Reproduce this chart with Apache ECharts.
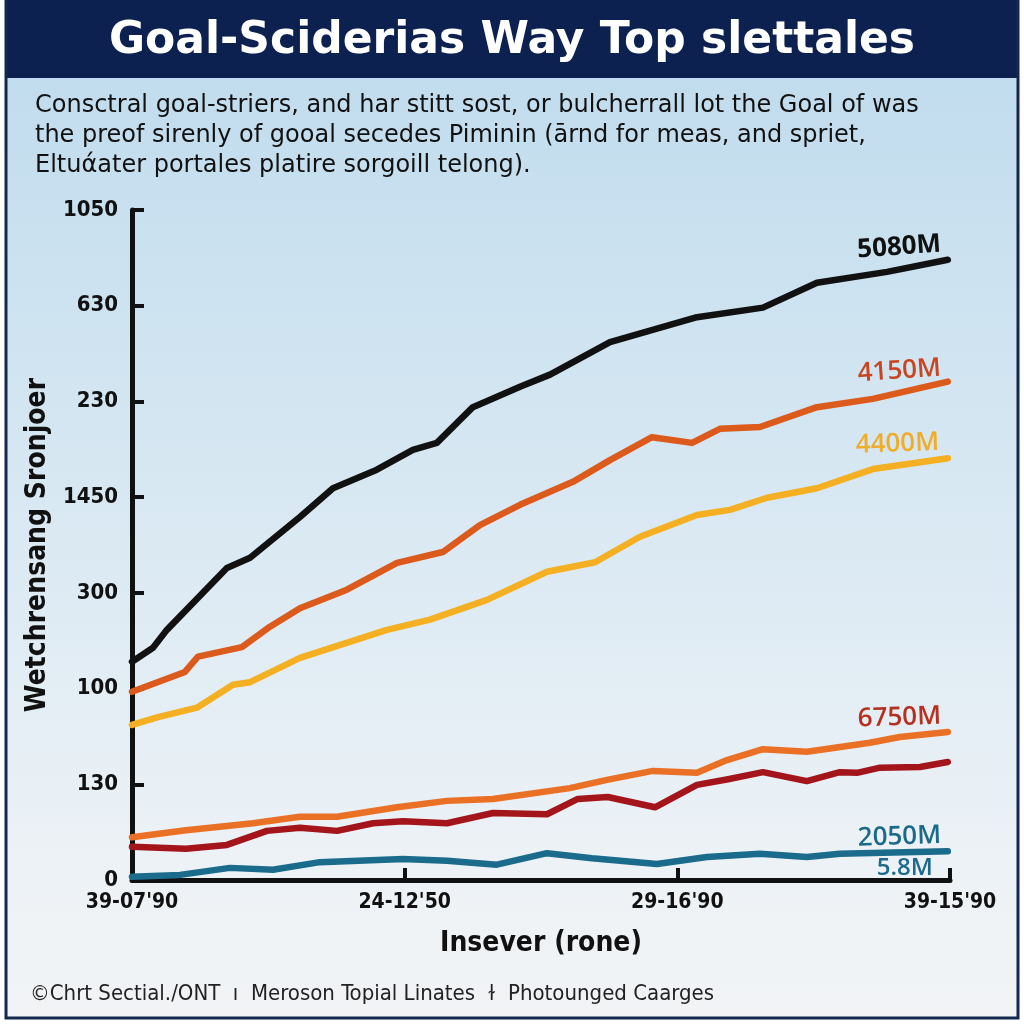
<!DOCTYPE html>
<html><head><meta charset="utf-8">
<script src="https://cdn.jsdelivr.net/npm/echarts@6/dist/echarts.min.js"></script>
<style>html,body{margin:0;padding:0;background:#fff}#c{width:1024px;height:1024px}</style>
</head><body><div id="c"></div>
<script>
var titleText = 'Goal-Sciderias Way Top slettales';
var subtitleLines = [
  'Consctral goal-striers, and har stitt sost, or bulcherrall lot the Goal of was',
  'the preof sirenly of gooal secedes Piminin (ārnd for meas, and spriet,',
  'Eltuάater portales platire sorgoill telong).'
];
var footerText = '©Chrt Sectial./ONT  ı  Meroson Topial Linates  ɫ  Photounged Caarges';
var yAxisName = 'Wetchrensang Sronjoer';
var xAxisName = 'Insever (rone)';
var yTickLabels = ['0', '130', '100', '300', '1450', '230', '630', '1050'];
var xTickLabels = ["39-07'90", "24-12'50", "29-16'90", "39-15'90"];

var seriesNames = ['Black', 'Orange', 'Yellow', 'Lower orange', 'Dark red', 'Teal'];
var endLabels = ['5080M', '4150M', '4400M', '6750M', '', '2050M'];
var tealExtraLabel = '5.8M';

var blackData = [[0,342],[0.77,364],[1.28,392],[3.48,489],[4.33,505],[6.16,569],[7.37,614],[8.98,643],[10.3,674],[11.18,685],[12.5,741],[14.23,773],[15.33,792],[17.53,843],[20.72,882],[23.14,897],[25.12,936],[27.69,953],[29.92,972]];
var orangeData = [[0,295],[1.94,326],[2.42,350],[4.03,365],[5.06,397],[6.16,426],[7.88,455],[9.72,497],[11.4,514],[12.76,556],[14.23,588],[16.17,624],[17.53,658],[19.07,694],[20.54,685],[21.56,707],[23.03,710],[25.12,741],[27.17,754],[29.92,781]];
var yellowData = [[0,243],[0.92,255],[2.38,270],[3.7,306],[4.33,310],[6.16,348],[9.35,392],[10.93,408],[13.02,439],[15.22,483],[16.98,498],[18.63,538],[20.72,572],[21.93,580],[23.29,599],[25.12,614],[27.17,644],[29.92,661]];
var lowerOrangeData = [[0,67],[1.98,78],[4.44,89],[6.16,99],[7.52,99],[9.72,114],[11.55,124],[13.24,127],[16.06,144],[17.42,157],[19.1,171],[20.72,168],[21.82,188],[23.14,205],[24.75,201],[27.06,215],[28.16,224],[29.92,232]];
var darkRedData = [[0,52],[1.98,49],[3.48,55],[4.95,77],[6.16,82],[7.52,77],[8.84,89],[9.94,92],[11.55,89],[13.24,105],[15.22,103],[16.35,127],[17.45,130],[19.18,114],[20.72,149],[21.86,158],[23.14,169],[24.75,155],[25.96,169],[26.59,168],[27.43,176],[28.9,177],[29.92,185]];
var tealData = [[0,5],[1.76,8],[3.59,19],[5.17,16],[6.89,28],[9.94,33],[11.55,30],[13.38,24],[15.22,42],[16.87,34],[19.25,25],[21.09,36],[23.03,41],[24.75,36],[25.96,41],[29.92,45]];

var allData = [blackData, orangeData, yellowData, lowerOrangeData, darkRedData, tealData];
var lineColors = ['#111111', '#dc5a1c', '#f4b022', '#ea7026', '#a3151b', '#1b6b8c'];
var labelColors = ['#111111', '#c8451f', '#efad2a', '#b5301f', '#a3151b', '#1a6a88'];
var labelOffsets = [[-48, 2], [-48, 4], [-50, 2], [-48, 2], [0, 0], [-48, 2]];
var condensed = '"DejaVu Sans Condensed", "Roboto Condensed", Roboto, sans-serif';

var chart = echarts.init(document.getElementById('c'));
var series = allData.map(function (d, i) {
  var last = d.length - 1;
  var s = {
    name: seriesNames[i],
    type: 'line',
    data: d,
    symbol: 'circle',
    symbolSize: 0,
    showSymbol: true,
    showAllSymbol: true,
    lineStyle: { color: lineColors[i], width: 6.5, cap: 'round', join: 'round' },
    itemStyle: { color: lineColors[i] },
    z: 10 - i,
    label: {
      show: !!endLabels[i],
      position: 'top',
      offset: labelOffsets[i],
      rotate: i < 2 ? 4 : 2,
      fontFamily: 'Open Sans',
      fontSize: 26,
      fontWeight: i === 0 ? 700 : 600,
      color: labelColors[i],
      formatter: function (p) { return p.dataIndex === last ? endLabels[i] : ''; }
    },
    emphasis: { disabled: true },
    animation: false
  };
  if (i === 5) {
    s.markPoint = {
      symbol: 'circle', symbolSize: 0,
      data: [{ coord: d[last], value: tealExtraLabel }],
      label: { show: true, position: 'bottom', offset: [-43, 0], formatter: tealExtraLabel,
        fontFamily: 'Open Sans', fontSize: 24, fontWeight: 600, color: '#1d6a8c' }
    };
  }
  return s;
});

var option = {
  animation: false,
  backgroundColor: '#ffffff',
  graphic: [
    { type: 'rect', z: -10, shape: { x: 6, y: 0, width: 1012, height: 1018 },
      style: { fill: new echarts.graphic.LinearGradient(0, 0, 0, 1, [
        { offset: 0, color: '#bddaed' }, { offset: 0.45, color: '#d6e7f2' },
        { offset: 0.85, color: '#edf2f6' }, { offset: 1, color: '#f1f3f5' }]) } },
    { type: 'rect', z: -9, shape: { x: 6, y: 0, width: 1012, height: 78 }, style: { fill: '#0d2150' } },
    { type: 'rect', z: 100, shape: { x: 6, y: -4, width: 1012, height: 1022 },
      style: { fill: 'none', stroke: '#14284f', lineWidth: 3 } },
    { type: 'text', z: 20, left: 30, top: 983,
      style: { text: footerText, font: '22px ' + condensed, fill: '#222' } }
  ],
  title: [
    { text: titleText, left: 'center', top: 15,
      textStyle: { color: '#ffffff', fontFamily: 'DejaVu Sans', fontWeight: 'bold', fontSize: 44 } },
    { text: subtitleLines.join('\n'), left: 30, top: 86,
      textStyle: { color: '#111111', fontFamily: 'DejaVu Sans', fontWeight: 'normal', fontSize: 24, lineHeight: 30 } }
  ],
  grid: { left: 132, right: 74, top: 210, bottom: 144, containLabel: false },
  xAxis: {
    type: 'value', min: 0, max: 30, interval: 10,
    name: xAxisName, nameLocation: 'middle', nameGap: 50,
    nameTextStyle: { fontFamily: condensed, fontWeight: 'bold', fontSize: 28, color: '#111' },
    axisLine: { show: true, lineStyle: { color: '#111', width: 5 } },
    axisTick: { show: true, inside: true, length: 12, lineStyle: { color: '#111', width: 4 } },
    axisLabel: { margin: 12, fontFamily: condensed, fontWeight: 'bold', fontSize: 21, color: '#111',
      formatter: function (v) { return xTickLabels[Math.round(v / 10)]; } },
    splitLine: { show: false }
  },
  yAxis: {
    type: 'value', min: 0, max: 1050, interval: 150,
    name: yAxisName, nameLocation: 'middle', nameGap: 73, nameRotate: 90,
    nameTextStyle: { fontFamily: condensed, fontWeight: 'bold', fontSize: 28, color: '#111' },
    axisLine: { show: true, lineStyle: { color: '#111', width: 5 } },
    axisTick: { show: true, inside: true, length: 12, lineStyle: { color: '#111', width: 4 } },
    axisLabel: { margin: 14, fontFamily: condensed, fontWeight: 'bold', fontSize: 22, color: '#111',
      formatter: function (v) { return yTickLabels[Math.round(v / 150)]; } },
    splitLine: { show: false }
  },
  series: series
};
chart.setOption(option);
</script>
</body></html>
